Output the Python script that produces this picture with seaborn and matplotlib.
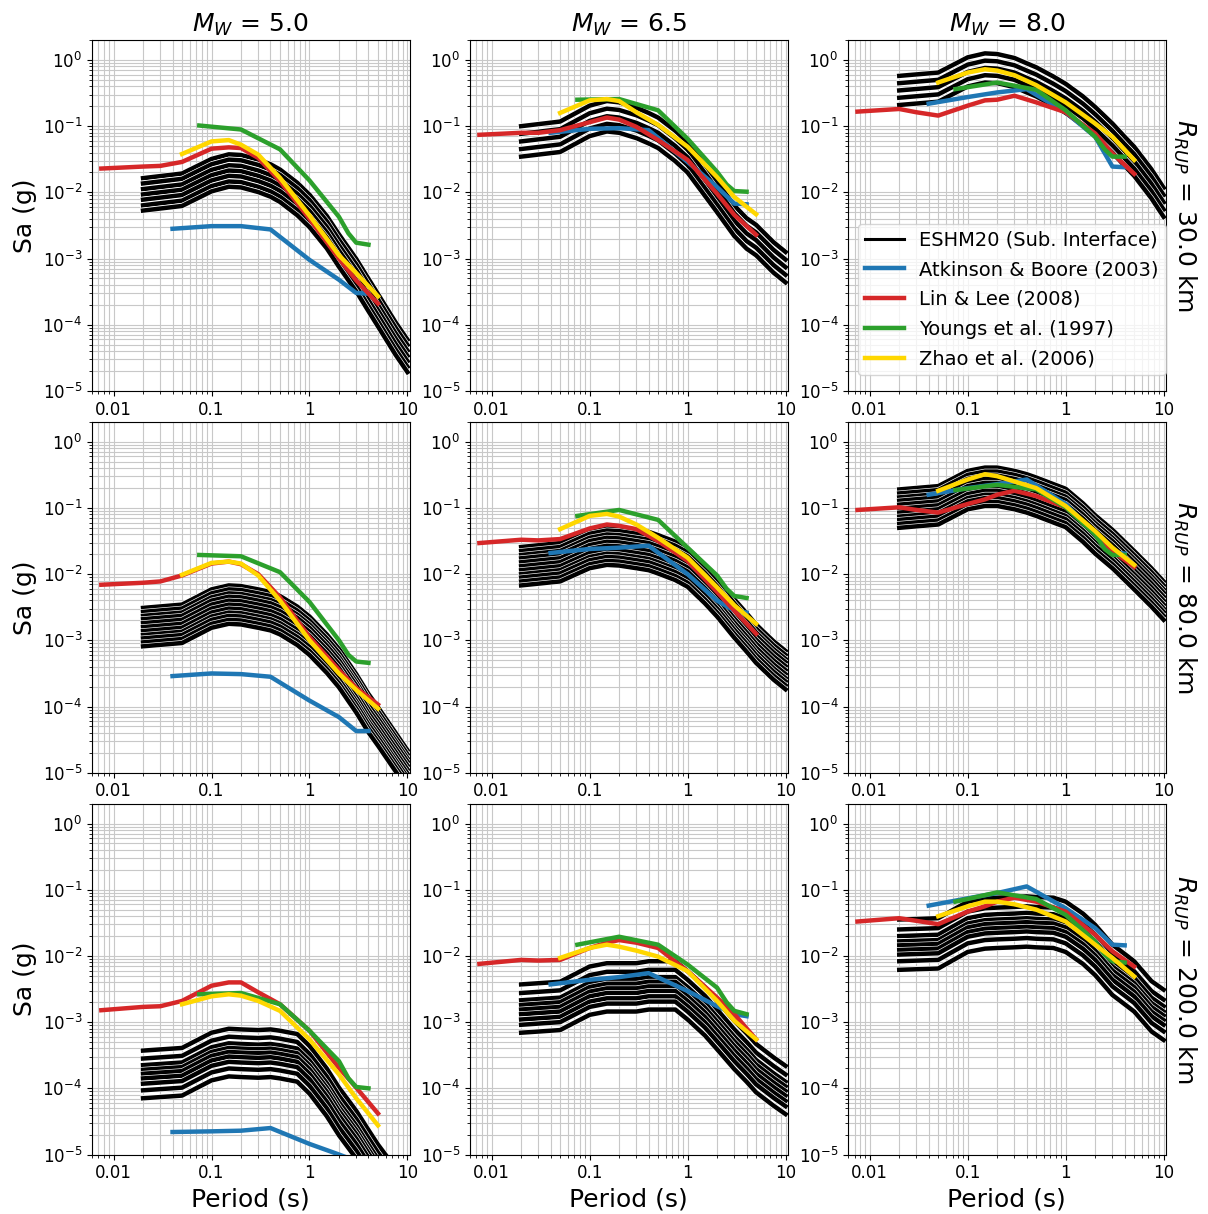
import numpy as np
import pandas as pd
import seaborn as sns
import matplotlib.pyplot as plt
import matplotlib.patheffects as pe
from matplotlib.lines import Line2D
from matplotlib.ticker import FuncFormatter

# periods (s) used by each model
T_ESHM = [0.02, 0.05, 0.1, 0.15, 0.2, 0.3, 0.4, 0.5, 0.75, 1, 1.5, 2, 3, 4, 5, 7.5, 10]
T_AB03 = [0.04, 0.1, 0.2, 0.4, 1, 2, 3, 4]
T_LL08 = [0.0075, 0.02, 0.03, 0.05, 0.1, 0.15, 0.2, 0.3, 0.5, 1, 2, 3, 5]
T_Y97 = [0.075, 0.2, 0.5, 1, 2, 2.5, 3, 4]
T_Z06 = [0.05, 0.1, 0.15, 0.2, 0.3, 0.5, 1, 2, 3, 5]

mags = [5.0, 6.5, 8.0]
dists = [30.0, 80.0, 200.0]

# ESHM20 central branch, log10 Sa (g)
eshm_m50_r30 = [-2.03, -1.96, -1.74, -1.67, -1.68, -1.75, -1.82, -1.90, -2.10, -2.28, -2.60, -2.88, -3.25, -3.55, -3.78, -4.20, -4.47]
eshm_m65_r30 = [-1.23, -1.16, -0.92, -0.85, -0.87, -0.95, -1.03, -1.10, -1.30, -1.47, -1.82, -2.07, -2.43, -2.62, -2.72, -2.98, -3.13]
eshm_m80_r30 = [-0.46, -0.41, -0.18, -0.12, -0.13, -0.19, -0.27, -0.33, -0.47, -0.58, -0.77, -0.93, -1.18, -1.38, -1.53, -1.87, -2.15]
eshm_m50_r80 = [-2.80, -2.75, -2.52, -2.46, -2.47, -2.52, -2.56, -2.62, -2.78, -2.93, -3.20, -3.42, -3.80, -4.10, -4.30, -4.68, -4.95]
eshm_m65_r80 = [-1.88, -1.82, -1.62, -1.57, -1.58, -1.62, -1.65, -1.70, -1.80, -1.90, -2.15, -2.35, -2.67, -2.88, -3.05, -3.30, -3.45]
eshm_m80_r80 = [-1.01, -0.96, -0.73, -0.68, -0.68, -0.73, -0.78, -0.83, -0.93, -1.00, -1.22, -1.40, -1.62, -1.80, -1.94, -2.20, -2.40]
eshm_m50_r200 = [-3.78, -3.74, -3.51, -3.45, -3.46, -3.47, -3.46, -3.48, -3.53, -3.71, -4.05, -4.34, -4.69, -4.98, -5.20, -5.55, -5.80]
eshm_m65_r200 = [-2.81, -2.77, -2.54, -2.49, -2.49, -2.49, -2.46, -2.46, -2.46, -2.61, -2.85, -3.06, -3.36, -3.55, -3.71, -3.91, -4.04]
eshm_m80_r200 = [-1.84, -1.82, -1.57, -1.52, -1.51, -1.50, -1.49, -1.50, -1.51, -1.57, -1.75, -1.92, -2.22, -2.36, -2.47, -2.77, -2.90]

# ESHM20 branch offsets from the central branch (log10 units)
branches_r30_m50 = [0.245, 0.165, 0.08, 0.0, -0.08, -0.165, -0.245]
branches_r30_m65 = [0.23, 0.115, 0.0, -0.115, -0.23]
branches_r30_m80 = [0.22, 0.11, 0.0, -0.11, -0.22]
branches_r80 = [0.29, 0.23, 0.17, 0.12, 0.06, 0.0, -0.06, -0.12, -0.17, -0.23, -0.29]
branches_r200_m50 = [0.35, 0.23, 0.13, 0.06, 0.0, -0.07, -0.15, -0.25, -0.37]
branches_r200_m65 = [0.38, 0.25, 0.14, 0.07, 0.0, -0.07, -0.15, -0.23, -0.35]
branches_r200_m80 = [0.39, 0.24, 0.14, 0.06, 0.0, -0.07, -0.14, -0.24, -0.37]

# Atkinson & Boore (2003)
ab_m50_r30 = [-2.55, -2.51, -2.51, -2.56, -3.02, -3.32, -3.52, -3.53]
ab_m65_r30 = [-1.10, -1.04, -1.03, -1.06, -1.54, -1.92, -2.17, -2.18]
ab_m80_r30 = [-0.66, -0.56, -0.49, -0.44, -0.79, -1.16, -1.61, -1.62]
ab_m50_r80 = [-3.54, -3.50, -3.51, -3.55, -3.91, -4.16, -4.37, -4.37]
ab_m65_r80 = [-1.68, -1.62, -1.60, -1.57, -2.00, -2.40, -2.55, -2.58]
ab_m80_r80 = [-0.80, -0.70, -0.64, -0.57, -0.94, -1.40, -1.67, -1.69]
ab_m50_r200 = [-4.66, -4.65, -4.64, -4.60, -4.84, -5.00, -5.10, -5.15]
ab_m65_r200 = [-2.43, -2.36, -2.32, -2.26, -2.53, -2.76, -2.88, -2.91]
ab_m80_r200 = [-1.24, -1.13, -1.05, -0.95, -1.28, -1.58, -1.83, -1.84]

# Lin & Lee (2008)
ll_m50_r30 = [-1.64, -1.61, -1.60, -1.54, -1.34, -1.32, -1.33, -1.48, -1.83, -2.40, -3.00, -3.33, -3.68]
ll_m65_r30 = [-1.13, -1.10, -1.10, -1.06, -0.94, -0.87, -0.90, -1.01, -1.21, -1.51, -2.02, -2.34, -2.64]
ll_m80_r30 = [-0.78, -0.74, -0.79, -0.84, -0.69, -0.61, -0.60, -0.54, -0.64, -0.79, -1.11, -1.41, -1.72]
ll_m50_r80 = [-2.16, -2.13, -2.11, -2.02, -1.84, -1.81, -1.85, -2.00, -2.35, -2.95, -3.45, -3.72, -3.97]
ll_m65_r80 = [-1.53, -1.48, -1.49, -1.47, -1.31, -1.25, -1.27, -1.32, -1.50, -1.80, -2.27, -2.55, -2.90]
ll_m80_r80 = [-1.03, -0.99, -1.03, -1.07, -0.94, -0.87, -0.80, -0.74, -0.82, -0.99, -1.38, -1.65, -1.89]
ll_m50_r200 = [-2.82, -2.77, -2.76, -2.68, -2.45, -2.40, -2.40, -2.55, -2.73, -3.13, -3.69, -3.99, -4.38]
ll_m65_r200 = [-2.12, -2.06, -2.07, -2.06, -1.88, -1.80, -1.76, -1.80, -1.88, -2.23, -2.63, -2.88, -3.26]
ll_m80_r200 = [-1.48, -1.43, -1.47, -1.52, -1.33, -1.25, -1.18, -1.12, -1.18, -1.33, -1.68, -1.93, -2.16]

# Youngs et al. (1997)
y_m50_r30 = [-0.99, -1.05, -1.35, -1.82, -2.37, -2.62, -2.76, -2.79]
y_m65_r30 = [-0.60, -0.59, -0.76, -1.19, -1.69, -1.88, -1.98, -1.99]
y_m80_r30 = [-0.44, -0.34, -0.45, -0.76, -1.16, -1.35, -1.46, -1.46]
y_m50_r80 = [-1.71, -1.73, -1.97, -2.42, -3.00, -3.22, -3.32, -3.34]
y_m65_r80 = [-1.12, -1.03, -1.18, -1.60, -2.02, -2.22, -2.33, -2.36]
y_m80_r80 = [-0.73, -0.65, -0.72, -0.99, -1.40, -1.62, -1.71, -1.71]
y_m50_r200 = [-2.58, -2.56, -2.73, -3.13, -3.59, -3.85, -3.98, -4.00]
y_m65_r200 = [-1.83, -1.71, -1.83, -2.13, -2.48, -2.70, -2.83, -2.88]
y_m80_r200 = [-1.18, -1.04, -1.14, -1.38, -1.78, -1.98, -2.08, -2.10]

# Zhao et al. (2006)
z_m50_r30 = [-1.42, -1.23, -1.21, -1.28, -1.43, -1.78, -2.35, -2.95, -3.22, -3.57]
z_m65_r30 = [-0.80, -0.61, -0.59, -0.62, -0.79, -0.98, -1.31, -1.77, -2.07, -2.33]
z_m80_r30 = [-0.34, -0.19, -0.14, -0.16, -0.23, -0.38, -0.64, -0.96, -1.16, -1.51]
z_m50_r80 = [-2.01, -1.83, -1.81, -1.84, -2.02, -2.40, -3.00, -3.50, -3.75, -4.03]
z_m65_r80 = [-1.32, -1.12, -1.09, -1.13, -1.25, -1.45, -1.75, -2.20, -2.47, -2.75]
z_m80_r80 = [-0.74, -0.57, -0.49, -0.52, -0.60, -0.70, -0.97, -1.35, -1.60, -1.86]
z_m50_r200 = [-2.73, -2.61, -2.58, -2.60, -2.68, -2.83, -3.26, -3.79, -4.15, -4.56]
z_m65_r200 = [-2.03, -1.88, -1.83, -1.86, -1.92, -2.01, -2.23, -2.68, -2.98, -3.26]
z_m80_r200 = [-1.40, -1.25, -1.18, -1.18, -1.22, -1.30, -1.48, -1.83, -2.03, -2.31]

# panel lookup (row = distance, col = magnitude)
eshm = [[eshm_m50_r30, eshm_m65_r30, eshm_m80_r30],
        [eshm_m50_r80, eshm_m65_r80, eshm_m80_r80],
        [eshm_m50_r200, eshm_m65_r200, eshm_m80_r200]]
branches = [[branches_r30_m50, branches_r30_m65, branches_r30_m80],
            [branches_r80, branches_r80, branches_r80],
            [branches_r200_m50, branches_r200_m65, branches_r200_m80]]
ab = [[ab_m50_r30, ab_m65_r30, ab_m80_r30], [ab_m50_r80, ab_m65_r80, ab_m80_r80], [ab_m50_r200, ab_m65_r200, ab_m80_r200]]
ll = [[ll_m50_r30, ll_m65_r30, ll_m80_r30], [ll_m50_r80, ll_m65_r80, ll_m80_r80], [ll_m50_r200, ll_m65_r200, ll_m80_r200]]
yy = [[y_m50_r30, y_m65_r30, y_m80_r30], [y_m50_r80, y_m65_r80, y_m80_r80], [y_m50_r200, y_m65_r200, y_m80_r200]]
zz = [[z_m50_r30, z_m65_r30, z_m80_r30], [z_m50_r80, z_m65_r80, z_m80_r80], [z_m50_r200, z_m65_r200, z_m80_r200]]

gmpes = [
    ("Atkinson & Boore (2003)", T_AB03, ab, "#1f77b4"),
    ("Lin & Lee (2008)", T_LL08, ll, "#d62728"),
    ("Youngs et al. (1997)", T_Y97, yy, "#2ca02c"),
    ("Zhao et al. (2006)", T_Z06, zz, "#ffd700"),
]

fig, axes = plt.subplots(3, 3, figsize=(12.08, 12.14), dpi=100)
fig.subplots_adjust(left=0.076, right=0.965, top=0.967, bottom=0.049, wspace=0.19, hspace=0.088)

# thin white edge so stacked branches stay apart
outline = [pe.Stroke(linewidth=4.1, foreground="white"), pe.Normal()]

for i in range(3):
    for j in range(3):
        ax = axes[i, j]
        ax.set_xscale("log")
        ax.set_yscale("log")
        centre = np.array(eshm[i][j])
        for off in branches[i][j]:
            df = pd.DataFrame({"T": T_ESHM, "Sa": 10 ** (centre + off)})
            sns.lineplot(data=df, x="T", y="Sa", ax=ax, color="black", lw=3.2,
                         estimator=None, sort=False, legend=False,
                         path_effects=outline, zorder=2)
        for name, per, vals, col in gmpes:
            df = pd.DataFrame({"T": per, "Sa": 10 ** np.array(vals[i][j])})
            sns.lineplot(data=df, x="T", y="Sa", ax=ax, color=col, lw=3.2,
                         estimator=None, sort=False, legend=False, zorder=3)

        ax.set_xlim(0.006, 10.5)
        ax.set_ylim(1e-5, 2)
        ax.grid(True, which="both", color="#c8c8c8", lw=0.8)
        ax.set_axisbelow(True)
        ax.xaxis.set_major_formatter(FuncFormatter(lambda v, _: f"{v:g}"))
        ax.tick_params(labelsize=12)
        ax.set_xlabel("Period (s)" if i == 2 else "", fontsize=18)
        ax.set_ylabel("Sa (g)" if j == 0 else "", fontsize=18)
        if i == 0:
            ax.set_title(f"$M_W$ = {mags[j]:.1f}", fontsize=18)
        if j == 2:
            ax.text(1.06, 0.5, f"$R_{{RUP}}$ = {dists[i]:.1f} km", transform=ax.transAxes,
                    rotation=270, va="center", ha="center", fontsize=18)

handles = [Line2D([], [], color="black", lw=2.2)]
labels = ["ESHM20 (Sub. Interface)"]
for name, per, vals, col in gmpes:
    handles.append(Line2D([], [], color=col, lw=3.2))
    labels.append(name)
axes[0, 2].legend(handles, labels, loc="lower right", bbox_to_anchor=(1.0, 0.045),
                  fontsize=14, handlelength=2.0, borderpad=0.35, labelspacing=0.55,
                  borderaxespad=0.0)

fig.savefig("out.png", dpi=100)
